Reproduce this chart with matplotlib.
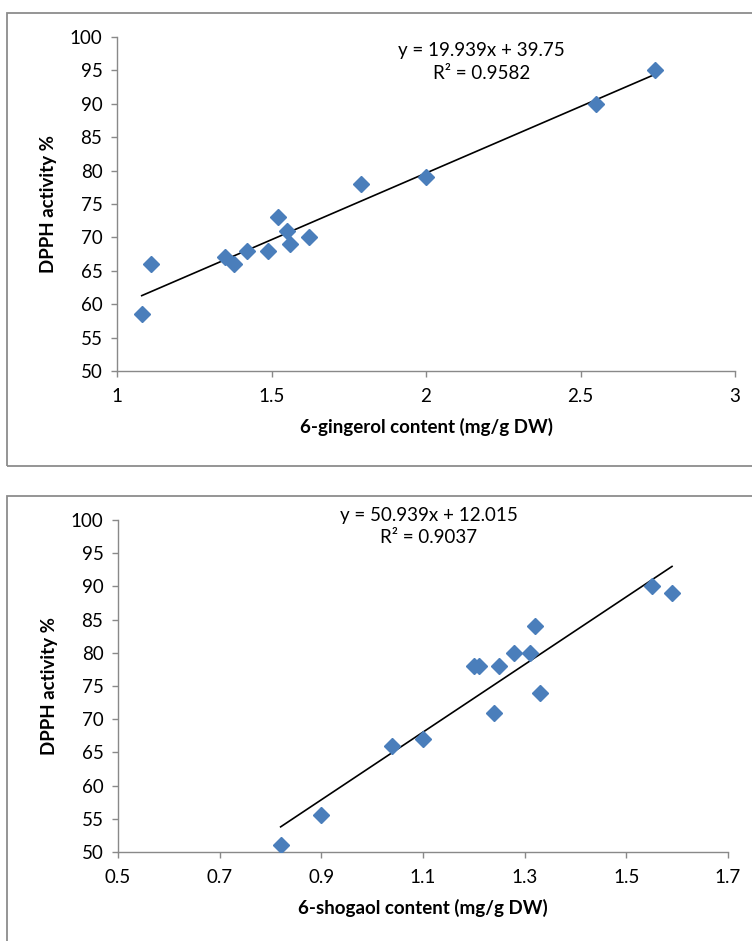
import matplotlib
matplotlib.use("Agg")
import matplotlib.pyplot as plt
from matplotlib.patches import Rectangle

plt.rcParams["font.family"] = ["Lato", "DejaVu Sans"]

# ── data ──────────────────────────────────────────────────────────────────────
gingerol_x = [1.08, 1.11, 1.35, 1.38, 1.42, 1.49, 1.52, 1.55, 1.56, 1.62, 1.79, 2.00, 2.55, 2.74]
gingerol_y = [58.5, 66, 67, 66, 68, 68, 73, 71, 69, 70, 78, 79, 90, 95]
gingerol_fit = (19.939, 39.75)
gingerol_r2 = "0.9582"

shogaol_x = [0.82, 0.90, 1.04, 1.10, 1.20, 1.21, 1.24, 1.25, 1.28, 1.31, 1.32, 1.33, 1.55, 1.59]
shogaol_y = [51, 55.5, 66, 67, 78, 78, 71, 78, 80, 80, 84, 74, 90, 89]
shogaol_fit = (50.939, 12.015)
shogaol_r2 = "0.9037"

gingerol_xticks = [1, 1.5, 2, 2.5, 3]
shogaol_xticks = [0.5, 0.7, 0.9, 1.1, 1.3, 1.5, 1.7]
yticks = list(range(50, 101, 5))

BLUE = "#4A7EBB"
GRAY = "#898989"
FS = 13.5


def draw_panel(ax, xs, ys, fit, r2, xticks, xlabel, eq_pos):
    ax.plot(xs, ys, linestyle="none", marker="D", markersize=8.2,
            color=BLUE, markeredgecolor=BLUE, zorder=3)
    slope, icpt = fit
    x0, x1 = min(xs), max(xs)
    ax.plot([x0, x1], [slope * x0 + icpt, slope * x1 + icpt],
            color="black", linewidth=1.2, zorder=2)

    ax.set_xlim(xticks[0], xticks[-1])
    ax.set_ylim(50, 100)
    ax.set_xticks(xticks)
    ax.set_xticklabels([f"{t:g}" for t in xticks])
    ax.set_yticks(yticks)

    for side in ("top", "right"):
        ax.spines[side].set_visible(False)
    for side in ("left", "bottom"):
        ax.spines[side].set_color(GRAY)
        ax.spines[side].set_linewidth(1.0)
    ax.tick_params(direction="out", length=4.5, width=1.0, color=GRAY,
                   labelsize=FS, labelcolor="black")
    ax.tick_params(axis="y", pad=6)
    ax.tick_params(axis="x", pad=8)

    ax.set_xlabel(xlabel, fontsize=FS, fontweight="bold", labelpad=9)
    ax.set_ylabel("DPPH activity %", fontsize=FS, fontweight="bold", labelpad=9)

    sign = "+" if icpt >= 0 else "-"
    ax.text(eq_pos[0], eq_pos[1],
            f"y = {slope:g}x {sign} {abs(icpt):g}\nR² = {r2}",
            transform=ax.transAxes, ha="center", va="top",
            fontsize=FS, linespacing=1.4)


fig = plt.figure(figsize=(7.52, 9.41), dpi=100)

# outer frames of the two chart objects
for y0, h in [(0.5048, 0.4814), (-0.05, 0.5229)]:
    fig.patches.append(Rectangle((0.0093, y0), 1.2, h, transform=fig.transFigure,
                                 fill=False, edgecolor="#8C8C8C", linewidth=1.3))

ax1 = fig.add_axes([0.1556, 0.6057, 0.9774 - 0.1556, 0.9607 - 0.6057])
draw_panel(ax1, gingerol_x, gingerol_y, gingerol_fit, gingerol_r2,
           gingerol_xticks, "6-gingerol content (mg/g DW)", (0.59, 0.985))

ax2 = fig.add_axes([0.1569, 0.0946, 0.968 - 0.1569, 0.4474 - 0.0946])
draw_panel(ax2, shogaol_x, shogaol_y, shogaol_fit, shogaol_r2,
           shogaol_xticks, "6-shogaol content (mg/g DW)", (0.51, 1.04))

fig.savefig("out.png", dpi=100)
